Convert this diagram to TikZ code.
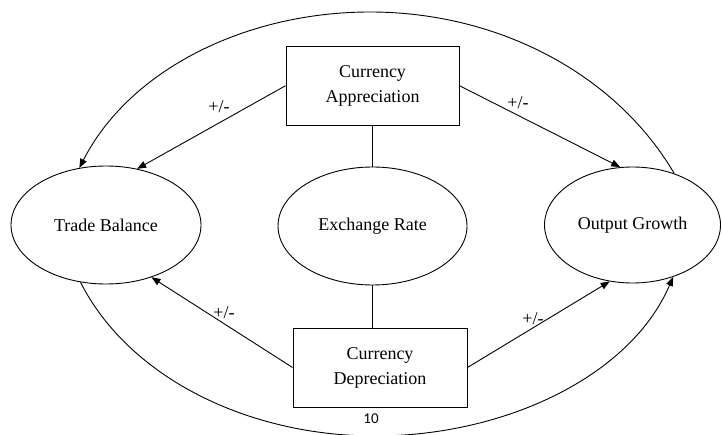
\documentclass[tikz,border=0pt]{standalone}
\usepackage{fontspec}
\setmainfont{Liberation Serif}
\newfontfamily\numfont{Carlito}
\usetikzlibrary{shapes.geometric,arrows.meta}
\begin{document}
\begin{tikzpicture}[x=1pt,y=1pt,
  every node/.style={font=\fontsize{18}{25}\selectfont},
  oval/.style={draw, ellipse, line width=0.9pt, inner sep=0pt},
  rbox/.style={draw, rectangle, line width=0.9pt, minimum width=173pt, minimum height=79pt, align=center, inner sep=0pt},
  conn/.style={line width=0.9pt},
  arr/.style={conn, -{Triangle[length=9pt,width=7pt]}},
  sign/.style={inner sep=0pt}]
\useasboundingbox (0,0) rectangle (722,434);
\fill[white] (0,0) rectangle (722,434);
\node[oval, minimum width=190pt, minimum height=118pt] (tb) at (106,209) {Trade Balance};
\node[oval, minimum width=189pt, minimum height=118pt] (er) at (372.5,208) {Exchange Rate};
\node[oval, minimum width=176pt, minimum height=116pt] (og) at (632.5,209) {Output Growth};
\node[rbox] (ta) at (372.5,348.3) {Currency\\Appreciation};
\node[rbox, minimum width=174pt] (da) at (380,66.5) {Currency\\Depreciation};
\draw[arr] (ta.west) -- (tb.61);
\draw[arr] (ta.east) -- (og.102);
\draw[arr] (da.west) -- (tb.-49);
\draw[arr] (da.east) -- (og.-112);
\draw[conn] (ta.south) -- (er.north);
\draw[conn] (er.south) -- (er.south |- da.north);
\coordinate (topmid) at (370,422);
\coordinate (botmid) at (375,-2);
\draw[arr] (og.51) .. controls (615.7,360.2) and (498.2,422) .. (topmid) .. controls (246.5,422) and (130,365) .. (tb.115);
\draw[arr] (tb.246) .. controls (128.8,56.7) and (247.4,-2) .. (botmid) .. controls (504.6,-2) and (630.5,57.5) .. (og.-52);
\node[sign] (s1) at (219,327) {+/-};
\node[sign] (s2) at (518,331) {+/-};
\node[sign] (s3) at (224,121) {+/-};
\node[sign] (s4) at (533,115) {+/-};
\node[font=\numfont\fontsize{15}{18}\selectfont] (pg) at (371,15) {10};
\end{tikzpicture}
\end{document}
